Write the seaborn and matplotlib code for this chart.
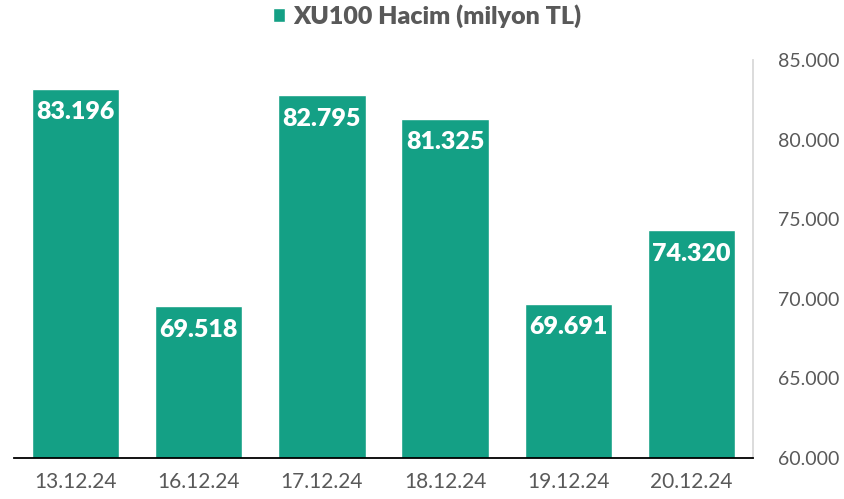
import matplotlib
matplotlib.use("Agg")
import matplotlib.pyplot as plt
import seaborn as sns
import pandas as pd
from matplotlib.ticker import FuncFormatter, FixedLocator
from matplotlib.patches import Patch

dates = ["13.12.24", "16.12.24", "17.12.24", "18.12.24", "19.12.24", "20.12.24"]
values = [83196, 69518, 82795, 81325, 69691, 74320]
series_name = "XU100 Hacim (milyon TL)"
yticks = [60000, 65000, 70000, 75000, 80000, 85000]

color = "#14A085"
sns.set_style("white")
plt.rcParams['font.family'] = ['Lato', 'DejaVu Sans']

df = pd.DataFrame({"date": dates, "value": values})

fig = plt.figure(figsize=(8.45, 4.99), dpi=100)
ax = fig.add_axes([14/845, 1-458/499, (753-14)/845, (458-60)/499])
sns.barplot(data=df, x="date", y="value", color=color, width=0.71,
            saturation=1, ax=ax)

ax.set_xlim(-0.5, len(dates) - 0.5)
ax.set_ylim(60000, 85000)
ax.yaxis.tick_right()
ax.set_yticks(yticks)
ax.yaxis.set_major_formatter(FuncFormatter(lambda v, p: f"{int(v):,}".replace(",", ".")))
ax.tick_params(axis="y", length=0, labelsize=14, labelcolor="#595959", pad=18)
ax.tick_params(axis="x", which="major", length=0, labelsize=15, labelcolor="#595959", pad=10)
ax.xaxis.set_minor_locator(FixedLocator([i - 0.5 for i in range(len(dates) + 1)]))
ax.tick_params(axis="x", which="minor", length=6, width=1.3, color="black", direction="out")
ax.set_xlabel("")
ax.set_ylabel("")

for s in ["top", "left"]:
    ax.spines[s].set_visible(False)
ax.spines["bottom"].set_color("black")
ax.spines["bottom"].set_linewidth(1.3)
ax.spines["right"].set_color("#d9d9d9")
ax.spines["right"].set_linewidth(1.3)

for i, v in enumerate(values):
    ax.annotate(f"{v:,}".replace(",", "."), xy=(i, v), xytext=(0, -17),
                textcoords="offset points", ha="center", va="center",
                color="white", fontsize=18, fontweight="heavy")

fig.legend(handles=[Patch(facecolor=color, label=series_name)],
           loc="center", bbox_to_anchor=(427/845, 1-16/499), frameon=False,
           prop={"size": 18, "weight": "heavy"}, labelcolor="#595959",
           handlelength=0.5, handleheight=0.5, handletextpad=0.3)

fig.savefig("out.png", dpi=100)
